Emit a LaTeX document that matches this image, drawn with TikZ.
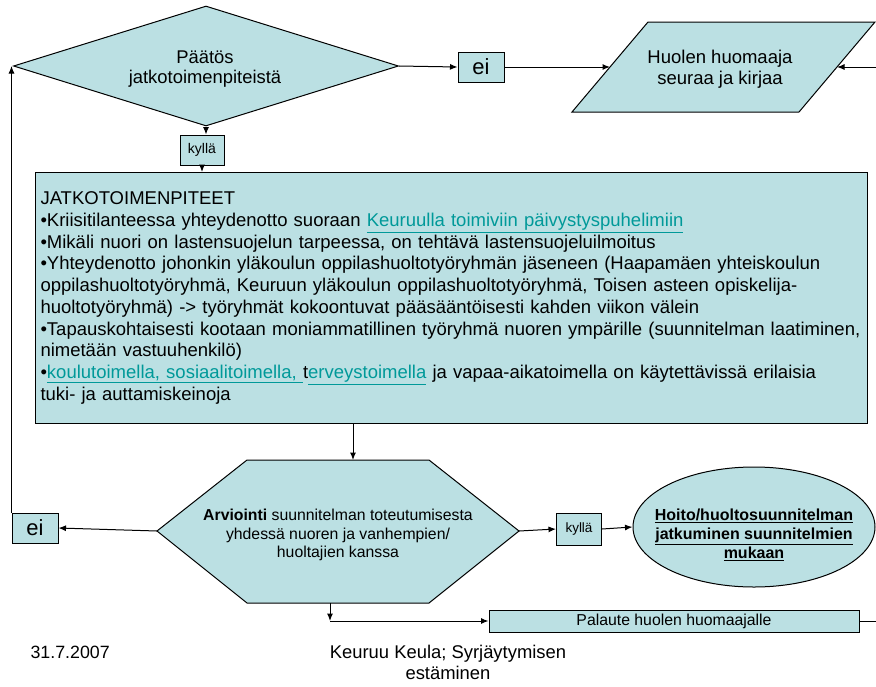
\documentclass[tikz,border=0pt]{standalone}
\usepackage{fontspec}
\setmainfont{Liberation Sans}
\usepackage{xcolor}
\usetikzlibrary{shapes.geometric, arrows.meta}

\definecolor{boxfill}{RGB}{187,224,227}
\definecolor{linkc}{RGB}{0,153,153}
\newcommand{\lnk}[1]{\textcolor{linkc}{\underline{#1}}}

\tikzset{
	box/.style={draw, fill=boxfill, line width=1pt, inner sep=0pt},
	conn/.style={line width=1pt, -{Latex[length=7.5pt, width=6pt]}},
	plain/.style={line width=1pt},
}

\begin{document}
\begin{tikzpicture}[x=1pt, y=-1pt]
			\useasboundingbox (0,0) rectangle (876,686);
			
			% top row
			\node [box, diamond, aspect=3.2, minimum width=385pt, minimum height=120pt, align=center, font=\fontsize{18.4}{20.5}\selectfont] (dec) at (206,66) {};
			\node [align=center, font=\fontsize{18.4}{20.5}\selectfont] (dec-t) at (205,69) {Päätös\\jatkotoimenpiteistä};
			\node [box, minimum width=46pt, minimum height=30pt, font=\fontsize{22}{24}\selectfont] (ei1) at (481,67) {ei};
			
			\coordinate (huo-w) at (610,67);
			\coordinate (huo-e) at (837,67);
			\coordinate (in-r) at (876,67);
			\filldraw [box] (648,22) -- (875,22) -- (799,112) -- (572,112) -- cycle;
			\node [align=center, font=\fontsize{18.5}{20.5}\selectfont] (huo) at (720,69) {Huolen huomaaja\\seuraa ja kirjaa};
			
			\node [box, minimum width=44pt, minimum height=30pt, font=\fontsize{14}{16}\selectfont] (kyl1) at (202,150) {kyllä};
			
			% jatkotoimenpiteet
			\node [box, anchor=north west, minimum width=832pt, minimum height=251pt, text width=822pt, inner xsep=5pt, align=left, font=\fontsize{18.5}{21.7}\selectfont] (jat) at (35,172) {JATKOTOIMENPITEET\\
				•Kriisitilanteessa yhteydenotto suoraan \lnk{Keuruulla toimiviin päivystyspuhelimiin}\\
				•Mikäli nuori on lastensuojelun tarpeessa, on tehtävä lastensuojeluilmoitus\\
				•Yhteydenotto johonkin yläkoulun oppilashuoltotyöryhmän jäseneen (Haapamäen yhteiskoulun\\
				oppilashuoltotyöryhmä, Keuruun yläkoulun oppilashuoltotyöryhmä, Toisen asteen opiskelija-\\
				huoltotyöryhmä) -> työryhmät kokoontuvat pääsääntöisesti kahden viikon välein\\
				•Tapauskohtaisesti kootaan moniammatillinen työryhmä nuoren ympärille (suunnitelman laatiminen,\\
				nimetään vastuuhenkilö)\\
				•\lnk{koulutoimella, sosiaalitoimella, }t\lnk{erveystoimella} ja vapaa-aikatoimella on käytettävissä erilaisia\\
				tuki- ja auttamiskeinoja};
			
			% arviointi
			\coordinate (arv-n) at (353,460);
			\coordinate (arv-s) at (330,603);
			\coordinate (arv-w) at (157,531);
			\coordinate (arv-e) at (519,531);
			\filldraw [box] (arv-w) -- (247,460) -- (429,460) -- (arv-e) -- (429,603) -- (247,603) -- cycle;
			\node [align=center, font=\fontsize{15.8}{18.4}\selectfont] (arv) at (338,535) {\textbf{Arviointi} suunnitelman toteutumisesta\\yhdessä nuoren ja vanhempien/\\huoltajien kanssa};
			
			\node [box, minimum width=46pt, minimum height=30pt, font=\fontsize{22}{24}\selectfont] (ei2) at (35,528) {ei};
			\node [box, minimum width=45pt, minimum height=32pt, font=\fontsize{13.5}{16}\selectfont] (kyl2) at (579,529) {kyllä};
			
			\node [box, ellipse, minimum width=242pt, minimum height=120pt] (hoi) at (754,527) {};
			\node [align=center, font=\bfseries\fontsize{16}{19}\selectfont] (hoi-t) at (754,535) {\underline{Hoito/huoltosuunnitelman}\\\underline{jatkuminen suunnitelmien}\\\underline{mukaan}};
			
			\node [box, minimum width=370pt, minimum height=22pt, font=\fontsize{15.8}{18}\selectfont] (pal) at (674,621) {Palaute huolen huomaajalle};
			
			% footer
			\node [anchor=west, font=\fontsize{17.8}{21}\selectfont] (date) at (27,652) {31.7.2007};
			\node [align=center, font=\fontsize{18.4}{21}\selectfont] (foot) at (448,662) {Keuruu Keula; Syrjäytymisen\\estäminen};
			
			% connectors
			\draw [conn] (dec.east) -- (ei1.west);
			\draw [conn] (ei1.east) -- (huo-w);
			\draw [conn] (in-r) -- (huo-e);
			\draw [conn] (dec.south) -- (dec.south |- kyl1.north);
			\draw [conn] (kyl1.south) -- (kyl1.south |- jat.north);
			\draw [conn] (arv-n |- jat.south) -- (arv-n);
			\draw [conn] (arv-w) -- (ei2.east);
			\draw [conn] (ei2.north west) -- (ei2.north west |- dec.west);
			\draw [conn] (arv-e) -- (kyl2.west);
			\draw [conn] (kyl2.east) -- (hoi.west);
			\draw [conn] (arv-s) -- (arv-s |- pal.west);
			\draw [conn] (arv-s |- pal.west) -- (pal.west);
			\draw [plain] (pal.east) -- (pal.east -| in-r);
		\end{tikzpicture}
\end{document}
